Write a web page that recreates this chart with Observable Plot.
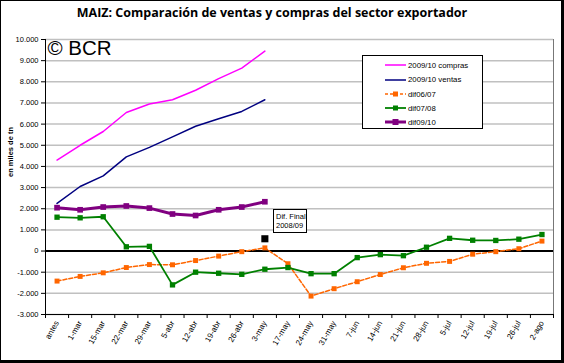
<!DOCTYPE html>
<html>
<head>
<meta charset="utf-8">
<script src="https://cdn.jsdelivr.net/npm/d3@7"></script>
<script src="https://cdn.jsdelivr.net/npm/@observablehq/plot@0.6"></script>
<style>
  html, body { margin: 0; padding: 0; background: #fff; }
  #wrap { position: relative; width: 564px; height: 363px; overflow: hidden; background: #fff; font-family: "Liberation Sans", Arial, sans-serif; }
  #wrap > svg { position: absolute; left: 0; top: 0; }
  #title { position: absolute; left: 0; top: 4px; width: 544px; text-align: center; font-family: "Open Sans", sans-serif; font-weight: 700; font-size: 12.5px; color: #000; }
  #border { position: absolute; left: 0; top: 0; width: 564px; height: 363px; box-sizing: border-box; border-left: 1px solid #000; border-top: 1px solid #000; border-right: 3px solid #000; border-bottom: 3px solid #000; pointer-events: none; }
  #legend { position: absolute; left: 362px; top: 55px; width: 121px; height: 74px; box-sizing: border-box; border: 1px solid #000; background: #fff; }
  .lg { position: absolute; left: 22px; height: 10px; display: flex; align-items: center; font-size: 7.8px; white-space: nowrap; }
  .lg svg { position: static; margin-right: 2px; flex: none; }
  #note { position: absolute; left: 273px; top: 209px; width: 34px; height: 24px; box-sizing: border-box; border: 1px solid #000; background: #fff; font-size: 7.5px; line-height: 9px; padding: 2px 0 0 2px; }
</style>
</head>
<body>
<div id="wrap">
  <div id="title">MAIZ: Comparación de ventas y compras del sector exportador</div>
</div>
<script>
// ---- data ----
const categories = ["antes","1-mar","15-mar","22-mar","29-mar","5-abr","12-abr","19-abr","26-abr","3-may","17-may","24-may","31-may","7-jun","14-jun","21-jun","28-jun","5-jul","12-jul","19-jul","26-jul","2-ago"];
const compras0910 = [4300,5000,5650,6550,6950,7150,7600,8150,8650,9450];
const ventas0910  = [2250,3050,3550,4450,4900,5400,5900,6250,6600,7150];
const dif0607 = [-1420,-1200,-1030,-780,-640,-650,-450,-240,-30,150,-600,-2130,-1780,-1450,-1110,-790,-580,-490,-150,-30,110,470];
const dif0708 = [1600,1570,1620,200,220,-1600,-1000,-1050,-1100,-860,-780,-1070,-1070,-310,-170,-220,180,600,510,500,560,780];
const dif0910 = [2050,1950,2080,2130,2030,1750,1680,1950,2080,2330];
const difFinalLabel = "3-may";
const difFinalValue = 580;
const yTicks = d3.range(-3000, 10001, 1000);
const seriesNames = ["2009/10 compras","2009/10 ventas","dif06/07","dif07/08","dif09/10"];
const seriesColors = ["#ff00ff","#000080","#ff6600","#008000","#800080"];

const pts = arr => arr.map((v, i) => ({i, v}));
const loc = d3.formatLocale({decimal: ",", thousands: ".", grouping: [3], currency: ["", ""], minus: "-"});
const fmt = loc.format(",");
const xIndex = categories.map((c, i) => i);
const xBounds = d3.range(-0.5, categories.length, 1);

const chart = Plot.plot({
  width: 564, height: 363,
  marginTop: 39, marginLeft: 45, marginRight: 11, marginBottom: 49,
  style: {fontFamily: "'Liberation Sans', Arial, sans-serif", background: "transparent", overflow: "visible"},
  x: {type: "linear", domain: [-0.5, categories.length - 0.5], label: null},
  y: {domain: [-3000, 10000], label: null},
  marks: [
    Plot.gridY(yTicks, {stroke: "#c0c0c0", strokeOpacity: 1, strokeWidth: 1.5}),
    Plot.ruleX([categories.length - 0.5], {stroke: "#777", strokeWidth: 1}),
    Plot.ruleY([0], {stroke: "#000", strokeWidth: 2}),
    Plot.ruleY([-3000], {stroke: "#000", strokeWidth: 1}),
    Plot.ruleX([-0.5], {stroke: "#000", strokeWidth: 1}),
    Plot.text(["© BCR"], {frameAnchor: "top-left", dx: 2, dy: 1, lineAnchor: "top", textAnchor: "start", fontSize: 20.5, fill: "#000"}),
    Plot.text(["en miles de tn"], {frameAnchor: "left", dx: -35, rotate: -90, fontSize: 7.5, fontWeight: "bold", fill: "#000"}),
    Plot.line(pts(compras0910), {x: "i", y: "v", stroke: seriesColors[0], strokeWidth: 1.5}),
    Plot.line(pts(ventas0910), {x: "i", y: "v", stroke: seriesColors[1], strokeWidth: 1.5}),
    Plot.line(pts(dif0607), {x: "i", y: "v", stroke: seriesColors[2], strokeWidth: 1.5, strokeDasharray: "4,2"}),
    Plot.dot(pts(dif0607), {x: "i", y: "v", symbol: "square", r: 2.8, fill: seriesColors[2], stroke: "none"}),
    Plot.line(pts(dif0708), {x: "i", y: "v", stroke: seriesColors[3], strokeWidth: 1.8}),
    Plot.dot(pts(dif0708), {x: "i", y: "v", symbol: "square", r: 3, fill: seriesColors[3], stroke: "none"}),
    Plot.line(pts(dif0910), {x: "i", y: "v", stroke: seriesColors[4], strokeWidth: 3}),
    Plot.dot(pts(dif0910), {x: "i", y: "v", symbol: "square", r: 3.2, fill: seriesColors[4], stroke: "none"}),
    Plot.dot([{i: categories.indexOf(difFinalLabel), v: difFinalValue}], {x: "i", y: "v", symbol: "square", r: 4, fill: "#000", stroke: "none"}),
    Plot.axisY(yTicks, {tickSize: 4, tickPadding: 3, tickFormat: fmt, fontSize: 7.5, label: null}),
    Plot.axisX(xBounds, {tickSize: 4, tickFormat: () => "", label: null}),
    Plot.axisX(xIndex, {tickSize: 0, tickPadding: 7, tickFormat: i => categories[i], tickRotate: -60, fontSize: 8, label: null})
  ]
});
const wrap = document.getElementById("wrap");
wrap.insertBefore(chart, wrap.firstChild);

// legend
const legend = document.createElement("div");
legend.id = "legend";
const swatch = (k) => {
  const c = seriesColors[k];
  let s = `<svg width="21" height="8" viewBox="0 0 21 8">`;
  if (k === 2) s += `<line x1="0" y1="4" x2="21" y2="4" stroke="${c}" stroke-width="1.5" stroke-dasharray="3,2"/><rect x="8" y="1.5" width="5" height="5" fill="${c}"/>`;
  else if (k === 3) s += `<line x1="0" y1="4" x2="21" y2="4" stroke="${c}" stroke-width="1.8"/><rect x="8" y="1.5" width="5" height="5" fill="${c}"/>`;
  else if (k === 4) s += `<line x1="0" y1="4" x2="21" y2="4" stroke="${c}" stroke-width="3"/><rect x="7.5" y="1" width="6" height="6" fill="${c}"/>`;
  else s += `<line x1="0" y1="4" x2="21" y2="4" stroke="${c}" stroke-width="1.5"/>`;
  return s + `</svg>`;
};
const rowTops = [4, 18.5, 33, 47, 61];
seriesNames.forEach((n, k) => {
  const d = document.createElement("div");
  d.className = "lg";
  d.style.top = rowTops[k] + "px";
  d.innerHTML = swatch(k) + `<span>${n}</span>`;
  legend.appendChild(d);
});
wrap.appendChild(legend);

const note = document.createElement("div");
note.id = "note";
note.innerHTML = "Dif. Final<br>2008/09";
wrap.appendChild(note);

const border = document.createElement("div");
border.id = "border";
wrap.appendChild(border);
</script>
</body>
</html>
